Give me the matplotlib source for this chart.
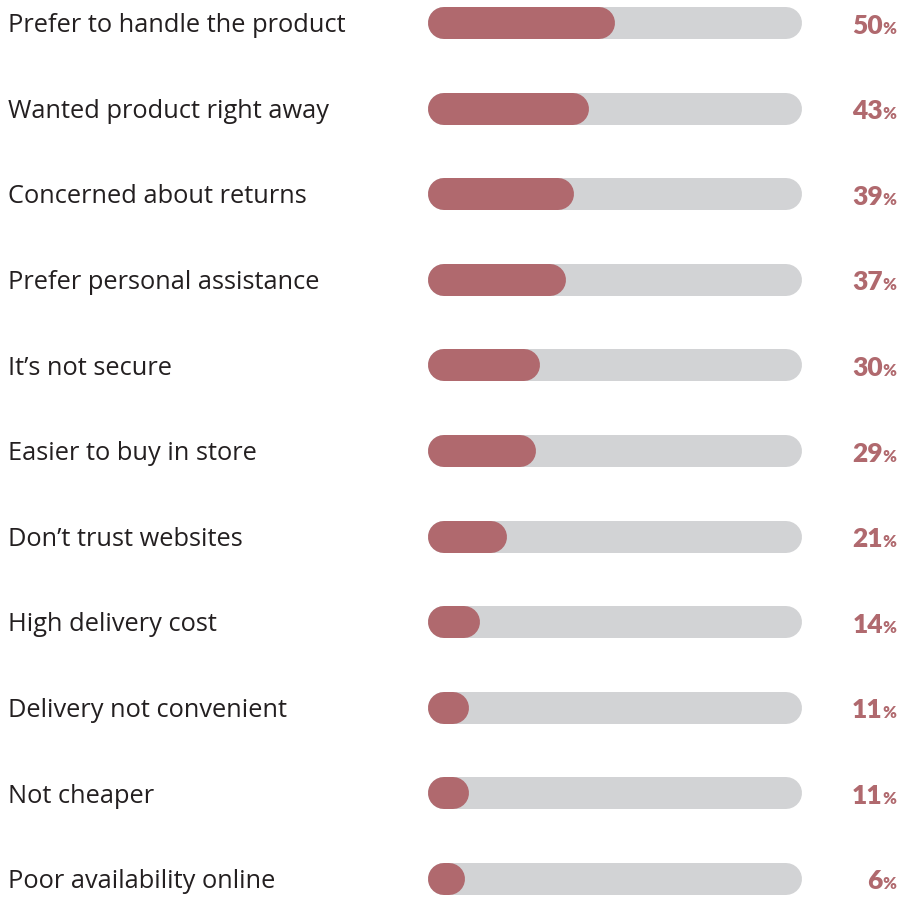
import matplotlib
matplotlib.use("Agg")
import matplotlib.pyplot as plt

# Survey reasons for buying in store rather than online (% of respondents)
reasons = [
    "Prefer to handle the product",
    "Wanted product right away",
    "Concerned about returns",
    "Prefer personal assistance",
    "It\u2019s not secure",
    "Easier to buy in store",
    "Don\u2019t trust websites",
    "High delivery cost",
    "Delivery not convenient",
    "Not cheaper",
    "Poor availability online",
]
shares = [50, 43, 39, 37, 30, 29, 21, 14, 11, 11, 6]

FILL = "#b0696e"
TRACK = "#d2d3d5"
LABEL = "#231f20"

W, H, DPI = 901, 898, 100
fig = plt.figure(figsize=(W / DPI, H / DPI), dpi=DPI)
fig.patch.set_facecolor("white")

# Axes spans the bar track horizontally (0-100 %) and the rows vertically
track_left, track_right = 428, 802
row_top, row_bottom = 23, 879
n = len(reasons)
step = (row_bottom - row_top) / (n - 1)
pad_rows = 0.25
ax_top_px = row_top - pad_rows * step
ax_bot_px = row_bottom + pad_rows * step
ax = fig.add_axes([
    track_left / W,
    1 - ax_bot_px / H,
    (track_right - track_left) / W,
    (ax_bot_px - ax_top_px) / H,
])
ax.set_xlim(0, 100)
ax.set_ylim(n - 1 + pad_rows, -pad_rows)
ax.axis("off")

px_per_x = (track_right - track_left) / 100.0
px_per_y = step
bar_h_px = 32
lw_pt = bar_h_px * 72 / DPI
cap = (bar_h_px / 2) / px_per_x      # round cap overhang in x units
min_fill = 37 / px_per_x             # shortest visible pill


def pill(x0, x1, y, color, z):
    # a thick line with round caps gives a pill spanning x0..x1
    ax.plot([x0 + cap, x1 - cap], [y, y], color=color, lw=lw_pt,
            solid_capstyle="round", zorder=z)


label_x = -(track_left - 8) / px_per_x
value_x = 100 + (896 - track_right) / px_per_x
label_dy = 9.2 / px_per_y
value_dy = 10.5 / px_per_y

for i, (name, v) in enumerate(zip(reasons, shares)):
    pill(0, 100, i, TRACK, 1)
    pill(0, max(v, min_fill), i, FILL, 2)

    ax.text(label_x, i + label_dy, name, ha="left", va="baseline",
            fontsize=18.3, family="Open Sans", color=LABEL,
            clip_on=False)

    pct = ax.text(value_x, i + value_dy, "%", ha="right", va="baseline",
                  fontsize=12, family="Lato", fontweight="heavy",
                  color=FILL, clip_on=False)
    ax.annotate(f"{v}", xy=(0, i + value_dy), xycoords=(pct, "data"),
                xytext=(0.6, 0), textcoords="offset points",
                ha="right", va="baseline", fontsize=19, family="Lato",
                fontweight="heavy", color=FILL, annotation_clip=False)

fig.savefig("out.png", dpi=DPI, facecolor="white")
